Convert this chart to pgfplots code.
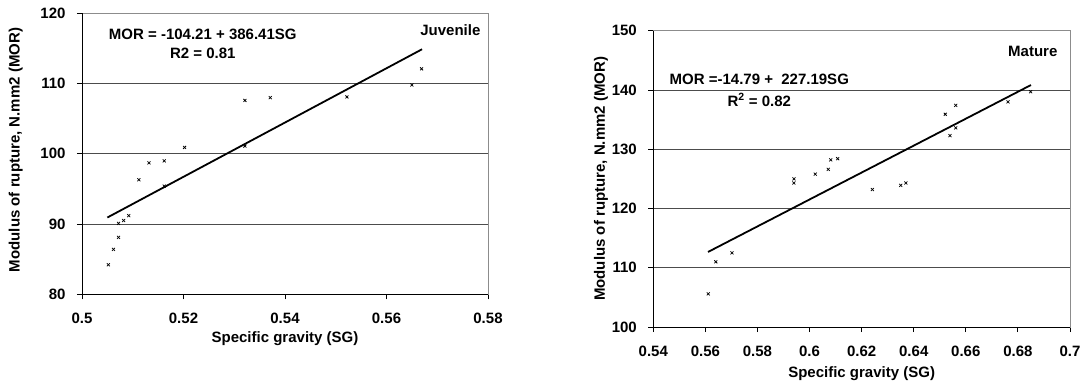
\documentclass[border=0pt]{standalone}
\usepackage{pgfplots}
\pgfplotsset{compat=1.18}
\usepackage{fontspec}
\setmainfont{Liberation Sans}
\newcommand{\lab}{\bfseries\fontsize{15bp}{19bp}\selectfont}
\pgfplotsset{
  myax/.style={
    scale only axis,
    anchor=south west,
    /pgf/number format/assume math mode=true,
    tick label style={font=\lab},
    label style={font=\lab},
    axis line style={draw=black!45, line width=0.8bp},
    ymajorgrids,
    major grid style={black!70, line width=0.9bp},
    tick align=outside,
    major tick length=5bp,
    tick style={black, line width=0.9bp},
    xtick pos=bottom, ytick pos=left,
    yticklabel style={anchor=east, xshift=-8bp},
    xticklabel style={anchor=north, yshift=-10.5bp},
    clip=false,
  },
  pts/.style={only marks, mark=x, mark size=2.1bp, black, mark options={line width=0.75bp}},
  trend/.style={black, line width=1.8bp, no marks},
}
\begin{document}
\begin{tikzpicture}
\useasboundingbox (0,0) rectangle (1086bp,387bp);
% Juvenile
\begin{axis}[myax,
  at={(82bp,92.7bp)}, width=406bp, height=281bp,
  xmin=0.5, xmax=0.58, ymin=80, ymax=120,
  xtick={0.5,0.52,0.54,0.56,0.58},
  xticklabels={0.5,0.52,0.54,0.56,0.58},
  ytick={80,90,100,110,120},
  xlabel={Specific gravity (SG)},
  ylabel={Modulus of rupture, N.mm2 (MOR)},
  x label style={at={(axis description cs:0.5,-0.159)}, anchor=center},
  y label style={at={(axis description cs:-0.163,0.5135)}, anchor=center},
]
\addplot[pts] coordinates {
(0.5052,84.2) (0.5062,86.4) (0.5072,88.1) (0.5072,90.1) (0.5082,90.5)
(0.5092,91.2) (0.5112,96.3) (0.5132,98.7) (0.5162,99.0) (0.5162,95.4)
(0.5202,100.9) (0.5321,107.6) (0.5371,108.0) (0.5522,108.1) (0.5650,109.8)
(0.5669,112.1) (0.5321,101.1)
};
\addplot[trend] coordinates {(0.505,90.93) (0.567,114.88)};
\draw[black, line width=0.9bp] (rel axis cs:0,1) -- (rel axis cs:0,0) -- (rel axis cs:1,0);
\node[align=center, font=\lab] at (axis cs:0.5238,115.6) {MOR = -104.21 + 386.41SG\\R2 = 0.81};
\node[anchor=east, font=\lab] at (axis cs:0.5792,117.6) {Juvenile};
\end{axis}
% Mature
\begin{axis}[myax,
  at={(653.3bp,60bp)}, width=416.7bp, height=296.3bp,
  xmin=0.54, xmax=0.7, ymin=100, ymax=150,
  xtick={0.54,0.56,0.58,0.6,0.62,0.64,0.66,0.68,0.7},
  xticklabels={0.54,0.56,0.58,0.6,0.62,0.64,0.66,0.68,0.7},
  ytick={100,110,120,130,140,150},
  xlabel={Specific gravity (SG)},
  ylabel={Modulus of rupture, N.mm2 (MOR)},
  x label style={at={(axis description cs:0.5,-0.159)}, anchor=center},
  y label style={at={(axis description cs:-0.1255,0.5)}, anchor=center},
]
\addplot[pts] coordinates {
(0.5611,105.6) (0.5640,111.0) (0.5702,112.5) (0.5940,125.0) (0.5940,124.3)
(0.6022,125.8) (0.6072,126.6) (0.6081,128.2) (0.6108,128.4) (0.6241,123.2)
(0.6350,123.9) (0.6370,124.3) (0.6521,135.9) (0.6561,137.4) (0.6561,133.6)
(0.6539,132.3) (0.6762,138.0) (0.6849,139.7)
};
\addplot[trend] coordinates {(0.561,112.66) (0.685,140.83)};
\draw[black, line width=0.9bp] (rel axis cs:0,1) -- (rel axis cs:0,0) -- (rel axis cs:1,0);
\node[align=center, font=\lab] at (axis cs:0.5807,140.0) {MOR =-14.79 +\ \ 227.19SG\\[3bp]R\textsuperscript{2} = 0.82};
\node[anchor=east, font=\lab] at (axis cs:0.6965,146.5) {Mature};
\end{axis}
\end{tikzpicture}
\end{document}
